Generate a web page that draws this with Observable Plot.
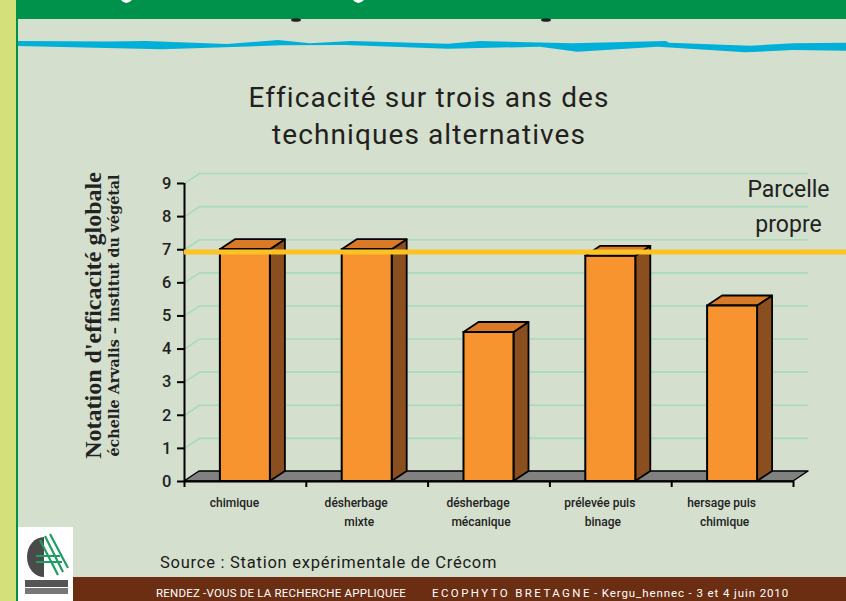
<!DOCTYPE html>
<html><head><meta charset="utf-8">
<script src="https://cdn.jsdelivr.net/npm/d3@7"></script>
<script src="https://cdn.jsdelivr.net/npm/@observablehq/plot@0.6"></script>
<style>
html,body{margin:0;padding:0;}
body{width:846px;height:601px;position:relative;overflow:hidden;background:#d4dfcd;font-family:Roboto,"DejaVu Sans",sans-serif;}
#deco{position:absolute;left:0;top:0;}
#chart{position:absolute;left:0;top:0;}
#title{position:absolute;left:0;width:858px;top:79px;text-align:center;font-size:28px;line-height:37px;color:#231f20;letter-spacing:1.1px;}
#source{position:absolute;left:160px;top:553px;font-size:16.5px;color:#1a1a1a;white-space:nowrap;letter-spacing:0.75px;}
#footer{position:absolute;left:156px;top:586px;font-size:11.5px;color:#fff;white-space:nowrap;}
#footer span{display:inline-block;}
</style></head>
<body>
<svg id="deco" width="846" height="601">
  <rect x="0" y="0" width="17" height="601" fill="#d4e17b"/>
  <rect x="16" y="0" width="830" height="19" fill="#00924a"/>
  <rect x="16" y="19" width="2" height="582" fill="#00924a"/>
  <path d="M121,0 Q126,6 132,0 Z M353,0 Q358,6 364,0 Z" fill="#ffffff"/>
  <ellipse cx="296" cy="20" rx="5" ry="1.8" fill="#222"/>
  <ellipse cx="546" cy="20" rx="5" ry="1.8" fill="#222"/>
  <path d="M18,41 L108,41.5 L146,41 L227,44 L278,40 L310,43.3 L351,41 L448,43.7 L480,41 L572,43.3 L666,41 L669,42.7 L750,45.7 L793,43.3 L846,42.7 L846,50.7 L793,50 L745,52.3 L658,46.7 L577,51.7 L540,46.7 L448,48.7 L345,45 L281,45.3 L162,49.3 L18,46 Z" fill="#00b0d8"/>
  <rect x="73" y="577" width="773" height="24" fill="#6b2e12"/>
  <rect x="18" y="527" width="55" height="74" fill="#ffffff"/>
  <path d="M44,537 A17,20 0 0 0 44,577 Z" fill="#4a4a4a"/>
  <path d="M40,540 L58,575 M45,536 L63,572 M50,534 L68,568 M36,556 L60,556 M36,562 L62,562" stroke="#1e9e63" stroke-width="2.2" fill="none"/>
  <rect x="25" y="580" width="43" height="7" fill="#555"/>
  <rect x="25" y="588" width="43" height="6" fill="#777"/>
</svg>
<div id="chart"></div>
<div id="title">Efficacité sur trois ans des<br>techniques alternatives</div>
<div id="source">Source : Station expérimentale de Crécom</div>
<div id="footer"><span style="width:276px;letter-spacing:0.2px">RENDEZ -VOUS DE LA RECHERCHE APPLIQUEE</span><span style="letter-spacing:2.4px;width:162px">ECOPHYTO BRETAGNE</span><span style="letter-spacing:0.9px">- Kergu_hennec - 3 et 4 juin 2010</span></div>
<script>
// ---- data ----
const categories = ["chimique", "désherbage\nmixte", "désherbage\nmécanique", "prélevée puis\nbinage", "hersage puis\nchimique"];
const values = [7.0, 7.0, 4.5, 6.8, 5.3];
const referenceValue = 6.93;
const referenceLabel = "Parcelle\npropre";
const yTicks = [0, 1, 2, 3, 4, 5, 6, 7, 8, 9];
const yLabel1 = "Notation d'efficacité globale";
const yLabel2 = "échelle Arvalis – institut du végétal";

// ---- layout ----
const W = 846, H = 601;
const mL = 184, mR = 53, mT = 183, mB = 120;
const pxX = (W - mL - mR) / categories.length;
const pxY = (H - mT - mB) / 9;
const dX = 15 / pxX, dY = 10 / pxY;   // 3D depth in data units
const halfW = 25 / pxX;

const rows = categories.map((c, i) => ({i, cat: c, v: values[i]}));
const sidePts = rows.flatMap(r => [
  {i: r.i, x: r.i + halfW, y1: 0, y2: r.v},
  {i: r.i, x: r.i + halfW + dX, y1: dY, y2: r.v + dY}
]);
const topPts = rows.flatMap(r => [
  {i: r.i, y: r.v, x1: r.i - halfW, x2: r.i + halfW},
  {i: r.i, y: r.v + dY, x1: r.i - halfW + dX, x2: r.i + halfW + dX}
]);
const floorPts = [
  {y: 0, x1: -0.5, x2: categories.length - 0.5},
  {y: dY, x1: -0.5 + dX, x2: categories.length - 0.5 + dX}
];
const labelRows = rows.map(r => {
  const parts = r.cat.split("\n");
  return {i: r.i, l1: parts[0], l2: parts[1] || ""};
});
const bounds = d3.range(categories.length + 1).map(k => k - 0.5);

const chart = Plot.plot({
  width: W, height: H,
  marginLeft: mL, marginRight: mR, marginTop: mT, marginBottom: mB,
  style: {background: "transparent", fontFamily: "Roboto, sans-serif", color: "#222", overflow: "visible"},
  x: {domain: [-0.5, categories.length - 0.5], axis: null},
  y: {domain: [0, 9], axis: null},
  marks: [
    // back wall grid
    Plot.ruleY(yTicks.slice(1), {y: d => d + dY, x1: -0.5 + dX, x2: categories.length - 0.5 + dX, stroke: "#a8dabe", strokeWidth: 1.6}),
    Plot.link(yTicks.slice(1), {x1: -0.5, y1: d => d, x2: -0.5 + dX, y2: d => d + dY, stroke: "#a8dabe", strokeWidth: 1.6}),
    // floor
    Plot.areaX(floorPts, {y: "y", x1: "x1", x2: "x2", fill: "#818181", stroke: "#000", strokeWidth: 1.5}),
    // bars: side, top, front
    Plot.areaY(sidePts, {x: "x", y1: "y1", y2: "y2", z: "i", fill: "#8a4e1f", stroke: "#000", strokeWidth: 1.8}),
    Plot.areaX(topPts, {y: "y", x1: "x1", x2: "x2", z: "i", fill: "#d97a29", stroke: "#000", strokeWidth: 1.8}),
    Plot.rectY(rows, {x1: r => r.i - halfW, x2: r => r.i + halfW, y1: 0, y2: "v", fill: "#f7942f", stroke: "#000", strokeWidth: 2}),
    // axes
    Plot.ruleY([0], {x1: -0.5, x2: categories.length - 0.5, stroke: "#000", strokeWidth: 2}),
    Plot.ruleX([-0.5], {y1: 0, y2: 9, stroke: "#000", strokeWidth: 2}),
    Plot.axisY({ticks: yTicks, tickSize: 7, tickPadding: 6, fontSize: 16.5, fontWeight: 500, strokeWidth: 2, stroke: "#000", label: null, tickFormat: d3.format("d")}),
    Plot.axisX({ticks: bounds, tickSize: 6, strokeWidth: 2, stroke: "#000", tickFormat: () => "", label: null}),
    Plot.text(labelRows, {x: "i", y: 0, text: "l1", dy: 22, dx: -11, fontSize: 12, fontWeight: 500, fill: "#222"}),
    Plot.text(labelRows, {x: "i", y: 0, text: "l2", dy: 41, dx: -8, fontSize: 12, fontWeight: 500, fill: "#222"}),
    // reference line
    Plot.ruleY([referenceValue], {x1: -0.5, x2: categories.length - 0.5 + mR / pxX, stroke: "#fdc324", strokeWidth: 5}),
    Plot.text([referenceLabel], {frameAnchor: "top-right", dx: -5, dy: 20, textAnchor: "middle", lineAnchor: "middle", lineHeight: 1.53, fontSize: 23, fill: "#222"}),
    // y axis titles
    Plot.text([yLabel1], {frameAnchor: "left", dx: -91, dy: -17, rotate: -90, textAnchor: "middle", fontSize: 24, fontWeight: "bold", fontFamily: "Liberation Serif, serif", fill: "#222"}),
    Plot.text([yLabel2], {frameAnchor: "left", dx: -70, dy: -17, rotate: -90, textAnchor: "middle", fontSize: 14.3, fontWeight: "bold", fontFamily: "DejaVu Serif, serif", fill: "#222"})
  ]
});
document.getElementById("chart").appendChild(chart);
</script>
</body></html>
